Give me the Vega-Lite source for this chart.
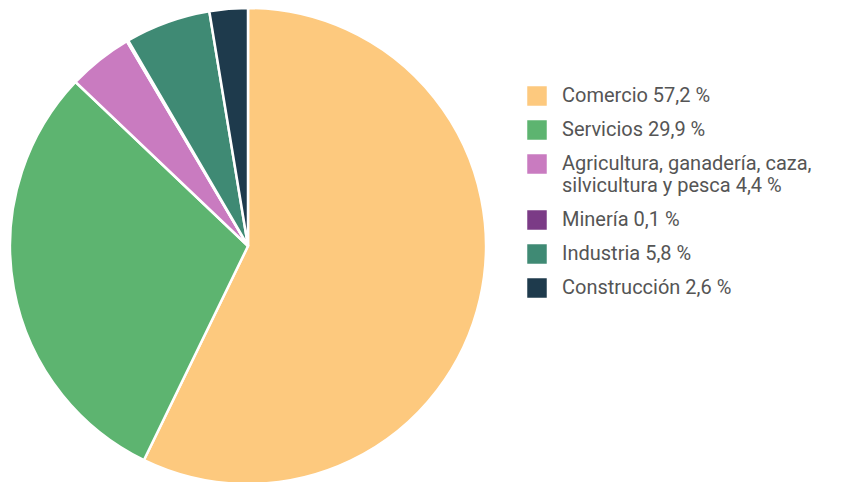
{
  "$schema": "https://vega.github.io/schema/vega-lite/v6.json",
  "width": 496,
  "height": 492,
  "padding": 0,
  "autosize": {"type": "pad"},
  "background": "white",
  "config": {"view": {"stroke": null}},
  "data": {"values": [
    {"sector": "Comercio 57,2 %", "value": 57.2, "order": 1},
    {"sector": "Servicios 29,9 %", "value": 29.9, "order": 2},
    {"sector": "Agricultura, ganadería, caza,|silvicultura y pesca 4,4 %", "value": 4.4, "order": 3},
    {"sector": "Minería 0,1 %", "value": 0.1, "order": 4},
    {"sector": "Industria 5,8  %", "value": 5.8, "order": 5},
    {"sector": "Construcción 2,6 %", "value": 2.6, "order": 6}
  ]},
  "mark": {"type": "arc", "outerRadius": 238, "stroke": "white", "strokeWidth": 2.5},
  "encoding": {
    "theta": {"field": "value", "type": "quantitative", "stack": true},
    "order": {"field": "order", "type": "quantitative"},
    "color": {
      "field": "sector",
      "type": "nominal",
      "sort": {"field": "order"},
      "scale": {
        "domain": ["Comercio 57,2 %", "Servicios 29,9 %", "Agricultura, ganadería, caza,|silvicultura y pesca 4,4 %", "Minería 0,1 %", "Industria 5,8  %", "Construcción 2,6 %"],
        "range": ["#FDC97E", "#5DB470", "#C97BC0", "#7B3B86", "#3F8A74", "#1E3A4C"]
      },
      "legend": {
        "title": null,
        "orient": "none",
        "legendX": 527,
        "legendY": 86,
        "symbolType": "square",
        "symbolSize": 380,
        "symbolStrokeWidth": 0,
        "symbolOpacity": 1,
        "labelFont": "Roboto",
        "labelFontSize": 20,
        "labelColor": "#555555",
        "labelOffset": 15,
        "labelLimit": 400,
        "rowPadding": 14,
        "labelExpr": "split(datum.label, '|')",
        "encode": {"labels": {"update": {"lineHeight": {"value": 16}}}}
      }
    }
  }
}
